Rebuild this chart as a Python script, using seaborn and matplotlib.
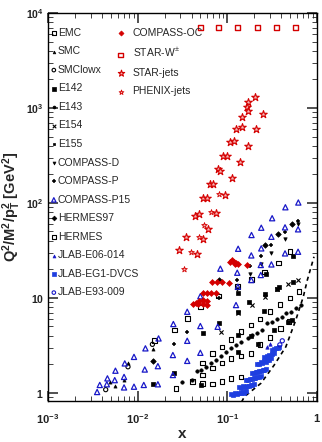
import matplotlib
matplotlib.use('Agg')
import matplotlib.pyplot as plt
import seaborn as sns
import numpy as np
from matplotlib.ticker import FixedLocator, FixedFormatter, LogLocator, NullFormatter

# ---- data (x, Q^2/M^2/pT^2) ----
EMC_X = [0.0155, 0.0258, 0.0362, 0.05, 0.08, 0.13, 0.186, 0.26, 0.37, 0.5]
EMC_Q2 = [3.53, 4.58, 6.08, 8.0, 10.5, 13.1, 15.7, 18.8, 23.4, 30.6]

SMC_X = [0.0049, 0.0056, 0.0071, 0.0079, 0.0148]
SMC_Q2 = [1.3, 1.18, 1.36, 2.07, 2.9]

SMCLOWX_X = [0.0044, 0.0078, 0.0146]
SMCLOWX_Q2 = [1.08, 1.88, 3.24]

E142_X = [0.015, 0.0254, 0.051, 0.053, 0.0815, 0.13, 0.13, 0.183, 0.22, 0.33]
E142_Q2 = [1.23, 1.6, 1.21, 4.23, 5.38, 4.06, 2.7, 3.95, 3.3, 4.6]

E143_X = [0.0316, 0.040, 0.046, 0.051, 0.058, 0.066, 0.075, 0.085, 0.097, 0.11, 0.125, 0.142,
          0.168, 0.19, 0.216, 0.246, 0.28, 0.318, 0.362, 0.41, 0.455, 0.51, 0.58, 0.66]
E143_Q2 = [1.3, 1.38, 1.71, 1.76, 1.88, 2.07, 2.21, 2.44, 2.7, 2.94, 3.18, 3.45,
           3.74, 4.06, 4.29, 4.58, 5.38, 5.6, 5.93, 6.32, 6.87, 7.14, 7.75, 8.4]

E154_X = [0.085, 0.133, 0.19, 0.26, 0.354, 0.47, 0.615]
E154_Q2 = [4.4, 6.9, 8.4, 10.1, 12.3, 13.9, 15.4]

E155_X = [0.13, 0.13, 0.175, 0.258, 0.26, 0.268, 0.36, 0.376, 0.47, 0.53, 0.54, 0.546]
E155_Q2 = [7.1, 11.3, 9.1, 7.3, 10.9, 17.8, 12.4, 12.9, 5.6, 5.8, 14.6, 27.8]

COMPASS_D_X = [0.129, 0.18, 0.236, 0.31, 0.44, 0.615]
COMPASS_D_Q2 = [12.3, 17.8, 22.7, 29.9, 41.6, 59.5]

COMPASS_P_X = [0.0254, 0.0357, 0.0815, 0.129, 0.18, 0.236, 0.31, 0.44, 0.612]
COMPASS_P_Q2 = [3.3, 4.4, 9.9, 15.4, 21.6, 27.4, 36, 49, 65]

COMPASS_P15_X = [0.619, 0.444, 0.316, 0.615, 0.44, 0.239, 0.186, 0.31, 0.615, 0.44, 0.239, 0.132,
                 0.185, 0.31, 0.236, 0.236, 0.0836, 0.129, 0.185, 0.131,
                 0.00353, 0.00378, 0.00453, 0.0046, 0.00555, 0.00565, 0.00705, 0.00705, 0.00718,
                 0.0091, 0.0091, 0.0117, 0.012, 0.0122, 0.0168, 0.0168, 0.0171, 0.0247, 0.0247,
                 0.025, 0.0357, 0.0357, 0.0357, 0.05, 0.05, 0.125, 0.078, 0.05]
COMPASS_P15_Q2 = [101, 90, 69, 52.7, 55.3, 54.8, 45.9, 44, 30.6, 29.4, 33.2, 32.9,
                  28, 22.5, 22.2, 17.4, 20.3, 18.4, 15.4, 13.1,
                  1.02, 1.21, 1.23, 1.42, 1.36, 1.71, 1.14, 1.47, 2.04,
                  1.16, 2.39, 1.21, 1.76, 2.94, 1.23, 1.91, 3.74, 2.5, 1.54,
                  5.3, 3.53, 2.17, 7.14, 5.05, 2.64, 8.4, 4.96, 10.4]

HERMES97_X = [0.0148, 0.0815, 0.26, 0.37, 0.53]
HERMES97_Q2 = [2.17, 15.4, 36, 46.7, 59.6]

HERMES_X = [0.053, 0.068, 0.087, 0.11, 0.142, 0.183, 0.232, 0.3, 0.386, 0.5, 0.63,
            0.053, 0.068, 0.087, 0.11, 0.142, 0.183, 0.232, 0.3, 0.39, 0.489,
            0.0268, 0.041, 0.053, 0.068, 0.087, 0.11, 0.142]
HERMES_Q2 = [2.07, 2.6, 3.05, 3.65, 4.4, 5.17, 5.98, 7.2, 8.5, 10.0, 11.6,
             1.54, 1.83, 2.07, 2.3, 2.45, 2.6, 3.24, 3.8, 4.76, 5.6,
             1.11, 1.31, 1.26, 1.24, 1.31, 1.42, 1.47]

JLAB_E06_X = [0.28, 0.3]
JLAB_E06_Q2 = [3.05, 3.3]

JLAB_DVCS_X = [0.11, 0.122, 0.134, 0.148, 0.163, 0.116, 0.128, 0.141, 0.155,
               0.136, 0.15, 0.165, 0.182, 0.2, 0.143, 0.157, 0.173, 0.19,
               0.161, 0.178, 0.196, 0.216, 0.237, 0.169, 0.187, 0.206, 0.226,
               0.19, 0.207, 0.226, 0.247, 0.27, 0.198, 0.216, 0.236, 0.258,
               0.215, 0.235, 0.257, 0.28, 0.305, 0.225, 0.246, 0.268, 0.292,
               0.258, 0.275, 0.294, 0.313, 0.333,
               0.318, 0.333, 0.348, 0.363, 0.378]
JLAB_DVCS_Q2 = [0.97, 0.99, 1.0, 1.02, 1.04, 0.955, 0.97, 0.985, 1.0,
                1.15, 1.17, 1.19, 1.22, 1.25, 1.135, 1.155, 1.18, 1.2,
                1.38, 1.41, 1.44, 1.47, 1.5, 1.36, 1.39, 1.42, 1.45,
                1.62, 1.66, 1.7, 1.75, 1.8, 1.6, 1.64, 1.68, 1.73,
                2.03, 2.09, 2.15, 2.22, 2.3, 2.0, 2.06, 2.12, 2.19,
                2.36, 2.42, 2.48, 2.54, 2.6,
                2.82, 2.88, 2.94, 3.0, 3.05]

JLAB_E93_X = [0.385, 0.41]
JLAB_E93_Q2 = [3.2, 3.53]

COMPASS_OC_X = [0.108, 0.114, 0.119, 0.126, 0.122, 0.132, 0.165, 0.068, 0.0775, 0.088, 0.105,
                0.0532, 0.059, 0.066, 0.075, 0.041, 0.045, 0.0468, 0.0489, 0.0532, 0.0532, 0.059, 0.06]
COMPASS_OC_Q2 = [23.8, 25, 24, 23.4, 22.6, 22.6, 22.2, 14.6, 14.6, 14.6, 14.4,
                 11.2, 11.2, 11.2, 11.2, 8.6, 8.8, 8.6, 9.3, 8.6, 9.5, 8.4, 9.3]

STAR_W_X = [0.05, 0.079, 0.13, 0.215, 0.35, 0.57]
STAR_W_Q2 = [7000, 7000, 7000, 7000, 7000, 7000]

STAR_JETS_X = [0.205, 0.171, 0.164, 0.172, 0.247, 0.146, 0.144, 0.125, 0.208, 0.108, 0.119, 0.169,
               0.0903, 0.1, 0.139, 0.078, 0.0826, 0.114, 0.0647, 0.07, 0.0934, 0.0532, 0.0587,
               0.074, 0.0438, 0.0489, 0.0616, 0.0342, 0.0542, 0.0288, 0.0455]
STAR_JETS_Q2 = [1297, 1148, 1032, 936, 859, 810, 635, 597, 597, 442, 449, 401,
                314, 314, 272, 228, 217, 182, 157, 157, 121, 112, 113,
                79, 73, 76, 53, 44, 41.3, 31.9, 29.2]

PHENIX_X = [0.08, 0.0652, 0.0555, 0.048, 0.0398, 0.0325]
PHENIX_Q2 = [123, 80.8, 58, 43.4, 30.6, 20.1]

# kinematic limit curve (dashed)
LIMIT_X = [0.144, 0.155, 0.237, 0.333, 0.449, 0.58, 0.704, 0.78, 0.926]
LIMIT_Q2 = [0.8, 0.91, 1.26, 1.96, 3.05, 5.84, 10.3, 15.4, 27.1]

X_TICKS = [1e-3, 1e-2, 1e-1, 1]
X_TICK_LABELS = ['$\\mathbf{10^{-3}}$', '$\\mathbf{10^{-2}}$', '$\\mathbf{10^{-1}}$', '$\\mathbf{1}$']
Y_TICKS = [1, 10, 100, 1000, 10000]
Y_TICK_LABELS = ['$\\mathbf{1}$', '$\\mathbf{10}$', '$\\mathbf{10^{2}}$', '$\\mathbf{10^{3}}$', '$\\mathbf{10^{4}}$']

BLACK = '#000000'
BLUE = '#1818c8'
BLUE2 = '#1f3fe0'
RED = '#d40000'

# label, x, y, marker, size, color, filled, linewidth
LEFT_SERIES = [
    ('EMC', EMC_X, EMC_Q2, 's', 11, BLACK, False, 0.8),
    ('SMC', SMC_X, SMC_Q2, '^', 5, BLACK, True, 0.5),
    ('SMClowx', SMCLOWX_X, SMCLOWX_Q2, 'o', 9, BLACK, False, 0.8),
    ('E142', E142_X, E142_Q2, 's', 8, BLACK, True, 0.5),
    ('E143', E143_X, E143_Q2, 'o', 6, BLACK, True, 0.5),
    ('E154', E154_X, E154_Q2, 'x', 9, BLACK, True, 0.8),
    ('E155', E155_X, E155_Q2, 's', 6, BLACK, True, 0.5),
    ('COMPASS-D', COMPASS_D_X, COMPASS_D_Q2, 'v', 6, BLACK, True, 0.5),
    ('COMPASS-P', COMPASS_P_X, COMPASS_P_Q2, '+', 10, BLACK, True, 1.1),
    ('COMPASS-P15', COMPASS_P15_X, COMPASS_P15_Q2, '^', 14, BLUE, False, 0.9),
    ('HERMES97', HERMES97_X, HERMES97_Q2, 'D', 8, BLACK, True, 0.5),
    ('HERMES', HERMES_X, HERMES_Q2, 's', 11, BLACK, False, 0.8),
    ('JLAB-E06-014', JLAB_E06_X, JLAB_E06_Q2, '^', 6, BLUE, True, 0.5),
    ('JLAB-EG1-DVCS', JLAB_DVCS_X, JLAB_DVCS_Q2, 's', 8, BLUE2, True, 0.5),
    ('JLAB-E93-009', JLAB_E93_X, JLAB_E93_Q2, 'o', 9, BLUE, False, 0.8),
]
RIGHT_SERIES = [
    ('COMPASS-OC', COMPASS_OC_X, COMPASS_OC_Q2, 'D', 9, RED, True, 0.5),
    ('STAR-W$^{\\pm}$', STAR_W_X, STAR_W_Q2, 's', 12, RED, False, 1.0),
    ('STAR-jets', STAR_JETS_X, STAR_JETS_Q2, '*', 32, RED, True, 0.8),
    ('PHENIX-jets', PHENIX_X, PHENIX_Q2, '*', 18, RED, True, 0.6),
]

sns.set_style('ticks')
plt.rcParams['font.family'] = ['Liberation Sans', 'DejaVu Sans']
plt.rcParams['mathtext.fontset'] = 'custom'
plt.rcParams['mathtext.rm'] = 'Liberation Sans'
plt.rcParams['mathtext.bf'] = 'Liberation Sans:bold'
plt.rcParams['mathtext.it'] = 'Liberation Sans:italic'

fig = plt.figure(figsize=(3.22, 4.42), dpi=100)
ax = fig.add_axes([48 / 322, 1 - 401 / 442, 269 / 322, 388 / 442])
ax.set_xscale('log')
ax.set_yscale('log')

sns.lineplot(x=LIMIT_X, y=LIMIT_Q2, ax=ax, sort=False, estimator=None, color='k',
             linewidth=1.2, linestyle=(0, (2.5, 2.2)))


def draw(series):
    for label, xs, ys, marker, size, color, filled, lw in series:
        kw = dict(marker=marker, s=size, linewidth=lw, label=label, ax=ax, zorder=3)
        if marker in ('x', '+'):
            kw['color'] = color
        elif filled:
            if marker == '*':
                kw.update(color=color, facecolor='#f7b5b5', edgecolor=color)
            else:
                kw.update(color=color, edgecolor=color)
        else:
            kw.update(color=color, facecolor='none', edgecolor=color)
        sns.scatterplot(x=xs, y=ys, **kw)


draw(LEFT_SERIES)
draw(RIGHT_SERIES)

ax.set_xlim(1e-3, 1)
ax.set_ylim(0.82, 1e4)

ax.xaxis.set_major_locator(FixedLocator(X_TICKS))
ax.xaxis.set_major_formatter(FixedFormatter(X_TICK_LABELS))
ax.yaxis.set_major_locator(FixedLocator(Y_TICKS))
ax.yaxis.set_major_formatter(FixedFormatter(Y_TICK_LABELS))
for axis in (ax.xaxis, ax.yaxis):
    axis.set_minor_locator(LogLocator(base=10, subs=np.arange(2, 10), numticks=20))
    axis.set_minor_formatter(NullFormatter())

ax.tick_params(which='both', direction='in', top=True, right=True, colors='#222222')
ax.tick_params(which='major', length=7, width=1.1)
ax.tick_params(which='minor', length=3.5, width=0.6)
ax.tick_params(axis='x', which='major', labelsize=8, pad=8)
ax.tick_params(axis='y', which='major', labelsize=7.5, pad=3)
for sp in ax.spines.values():
    sp.set_linewidth(1.0)
    sp.set_color('black')

ax.set_xlabel('x', fontsize=11, fontweight='bold')
ax.set_ylabel('Q$^\\mathbf{2}$/M$^\\mathbf{2}$/p$_\\mathbf{T}^\\mathbf{2}$ [GeV$^\\mathbf{2}$]',
              fontsize=10.5, fontweight='bold')
ax.xaxis.set_label_coords(0.5, -0.068)
ax.yaxis.set_label_coords(-0.092, 0.5)

handles, labels = ax.get_legend_handles_labels()
n_left = len(LEFT_SERIES)
leg1 = ax.legend(handles[:n_left], labels[:n_left], loc='upper left',
                 bbox_to_anchor=(0.012, 0.962), frameon=False, fontsize=7.5,
                 handlelength=0.5, handletextpad=0.12, labelspacing=0.82,
                 borderpad=0, borderaxespad=0, markerscale=0.85)
ax.add_artist(leg1)
ax.legend(handles[n_left:], labels[n_left:], loc='upper left',
          bbox_to_anchor=(0.26, 0.962), frameon=False, fontsize=7.5,
          handlelength=0.5, handletextpad=0.9, labelspacing=0.82,
          borderpad=0, borderaxespad=0, markerscale=0.85)

fig.savefig('out.png', dpi=100)
